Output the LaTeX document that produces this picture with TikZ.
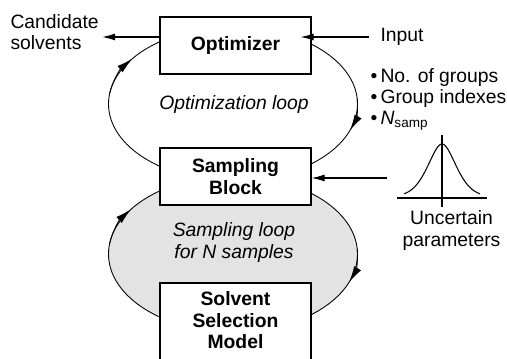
\documentclass[tikz,border=0pt]{standalone}
\usepackage{fontspec}
\setmainfont{Liberation Sans}
\usetikzlibrary{arrows.meta,positioning}

\begin{document}
\begin{tikzpicture}[>={Latex[length=2.6mm,width=1.4mm]}, line width=0.6pt,
    every node/.style={font=\fontsize{11}{12}\selectfont},
    block/.style={draw, fill=white, line width=0.7pt, minimum width=3.02cm, minimum height=1.14cm, align=center, font=\fontsize{11}{12.5}\selectfont\bfseries},
    loopline/.style={line width=0.5pt},
    looptip/.style={-{Latex[length=3.2mm,width=1.6mm]}},
    looptext/.style={align=center, font=\fontsize{11}{12}\selectfont\itshape}]
    \clip (0,0) rectangle (10.14,7.16);

    % the two loops
    \coordinate (optc) at (4.66,5.08);
    \coordinate (sampc) at (4.66,2.08);
    \draw[loopline] (optc) ellipse [x radius=2.49, y radius=1.54];
    \draw[loopline, fill=gray!22] (sampc) ellipse [x radius=2.49, y radius=1.56];
    \draw[loopline, looptip] (optc) ++(172:2.49 and 1.54) arc [start angle=172, end angle=144, x radius=2.49, y radius=1.54];
    \draw[loopline, looptip] (optc) ++(4:2.49 and 1.54) arc [start angle=4, end angle=-20, x radius=2.49, y radius=1.54];
    \draw[loopline, looptip] (sampc) ++(172:2.49 and 1.56) arc [start angle=172, end angle=145, x radius=2.49, y radius=1.56];
    \draw[loopline, looptip] (sampc) ++(4:2.49 and 1.56) arc [start angle=4, end angle=-21, x radius=2.49, y radius=1.56];

    \node[looptext] (optl) at (4.68,5.06) {Optimization loop};
    \node[looptext] (sampl) at (4.68,2.31) {Sampling loop\\for N samples};

    % blocks
    \node[block] (opt) at (4.71,6.25) {Optimizer};
    \node[block] (samp) at (4.71,3.63) {Sampling\\Block};
    \node[block, minimum height=1.9cm, text depth=0.42cm] (solv) at (4.71,0.55) {Solvent\\Selection\\Model};

    % inputs and outputs
    \node[anchor=north west, align=left, inner sep=0] (cand) at (0.2,6.88) {Candidate\\solvents};
    \draw[->] ([yshift=0.17cm]opt.west) -- ([yshift=0.17cm,xshift=0.06cm]opt.west -| cand.east);

    \node[anchor=west, inner sep=0] (input) at (7.6,6.42) {Input};
    \draw[->] ([xshift=-0.22cm]input.west) -- ([xshift=-0.22cm]input.west -| opt.east);

    \node[anchor=north west, align=left, inner sep=0] (items) at (7.4,5.80)
        {\textbullet\,No. of groups\\\textbullet\,Group indexes\\\textbullet\,\textit{N}\textsubscript{samp}};

    % distribution of the uncertain parameters
    \draw (7.94,3.20) -- (9.74,3.20);
    \draw (8.84,3.02) -- (8.84,4.46);
    \draw[domain=-0.76:0.76, samples=80, smooth] plot ({8.84+\x},{3.20+1.08*(0.6*exp(-(\x*\x)/(2*0.3*0.3))+0.4/(1+(\x/0.3)^2))});
    \coordinate (gin) at (7.74,3.60);
    \draw[->] (gin) -- (gin -| samp.east);
    \node[anchor=north, align=center, inner sep=0, font=\fontsize{11}{12.5}\selectfont] (unc) at (9.03,2.96) {Uncertain\\parameters};
\end{tikzpicture}
\end{document}
